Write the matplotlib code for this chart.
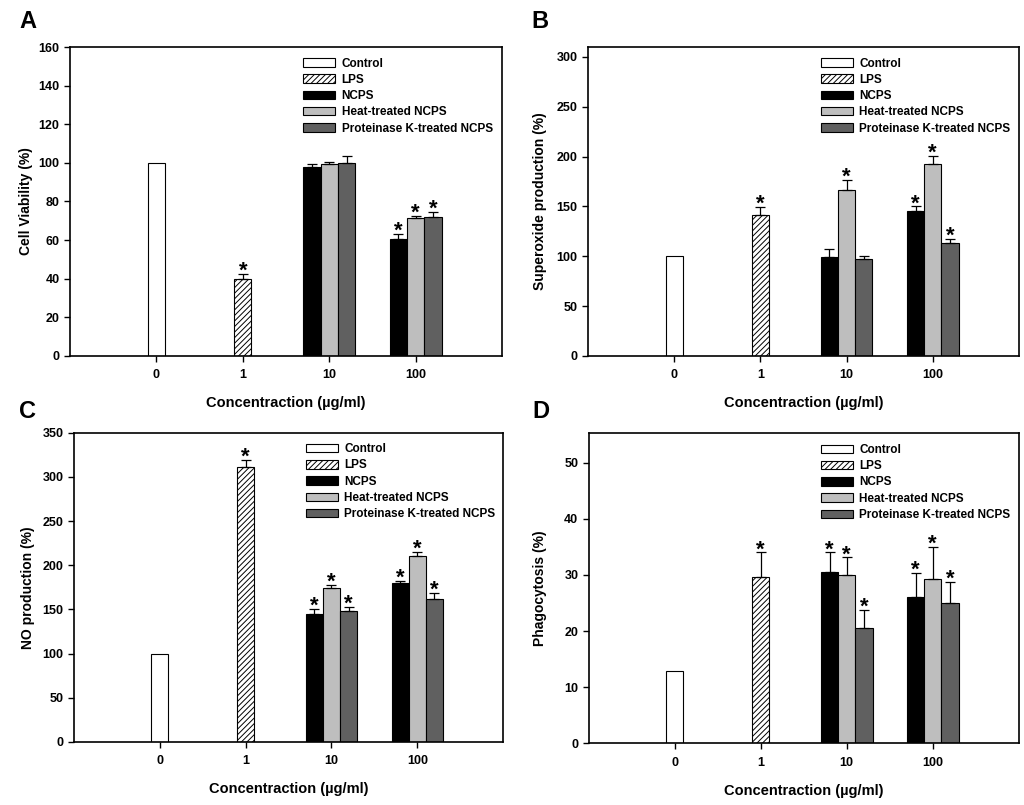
import matplotlib
matplotlib.use('Agg')
import matplotlib.pyplot as plt
import numpy as np

plt.rcParams['font.family'] = ['Liberation Sans', 'DejaVu Sans']
plt.rcParams['font.weight'] = 'bold'
plt.rcParams['hatch.linewidth'] = 0.7

# ---------------- data ----------------
conc_labels = ['0', '1', '10', '100']
series_names = ['Control', 'LPS', 'NCPS', 'Heat-treated NCPS', 'Proteinase K-treated NCPS']

# Panel A: Cell viability (%)
a_control = 100.0
a_lps = 39.7
a_lps_err = 2.8
a_ncps = [98.1, 60.8]
a_ncps_err = [1.4, 2.4]
a_heat = [99.5, 71.3]
a_heat_err = [0.8, 1.2]
a_pk = [100.0, 72.0]
a_pk_err = [3.4, 2.4]
a_lps_star = True
a_ncps_star = [False, True]
a_heat_star = [False, True]
a_pk_star = [False, True]

# Panel B: Superoxide production (%)
b_control = 100.0
b_lps = 141.3
b_lps_err = 8.4
b_ncps = [98.9, 145.3]
b_ncps_err = [8.3, 4.7]
b_heat = [166.7, 192.8]
b_heat_err = [10.3, 8.0]
b_pk = [97.2, 113.3]
b_pk_err = [3.4, 3.7]
b_lps_star = True
b_ncps_star = [False, True]
b_heat_star = [True, True]
b_pk_star = [False, True]

# Panel C: NO production (%)
c_control = 100.0
c_lps = 311.6
c_lps_err = 7.4
c_ncps = [145.2, 179.6]
c_ncps_err = [5.3, 3.0]
c_heat = [174.3, 210.0]
c_heat_err = [3.7, 4.6]
c_pk = [148.6, 161.4]
c_pk_err = [4.4, 7.6]
c_lps_star = True
c_ncps_star = [True, True]
c_heat_star = [True, True]
c_pk_star = [True, True]

# Panel D: Phagocytosis (%)
d_control = 12.9
d_lps = 29.7
d_lps_err = 4.3
d_ncps = [30.6, 26.0]
d_ncps_err = [3.4, 4.3]
d_heat = [29.9, 29.3]
d_heat_err = [3.2, 5.6]
d_pk = [20.6, 25.0]
d_pk_err = [3.2, 3.8]
d_lps_star = True
d_ncps_star = [True, True]
d_heat_star = [True, True]
d_pk_star = [True, True]

panels = [
    dict(letter='A', ylabel='Cell Viability (%)', ylim=(0, 160), yticks=np.arange(0, 161, 20),
         control=a_control, lps=a_lps, lps_err=a_lps_err, lps_star=a_lps_star,
         groups=[(a_ncps, a_ncps_err, a_ncps_star), (a_heat, a_heat_err, a_heat_star), (a_pk, a_pk_err, a_pk_star)],
         pos=[0.0684, 0.5578, 0.4219, 0.3838], letter_xy=(28, 22), ylabel_x=26),
    dict(letter='B', ylabel='Superoxide production (%)', ylim=(0, 310), yticks=np.arange(0, 301, 50),
         control=b_control, lps=b_lps, lps_err=b_lps_err, lps_star=b_lps_star,
         groups=[(b_ncps, b_ncps_err, b_ncps_star), (b_heat, b_heat_err, b_heat_star), (b_pk, b_pk_err, b_pk_star)],
         pos=[0.5742, 0.5578, 0.4209, 0.3838], letter_xy=(540, 22), ylabel_x=540),
    dict(letter='C', ylabel='NO production (%)', ylim=(0, 350), yticks=np.arange(0, 351, 50),
         control=c_control, lps=c_lps, lps_err=c_lps_err, lps_star=c_lps_star,
         groups=[(c_ncps, c_ncps_err, c_ncps_star), (c_heat, c_heat_err, c_heat_star), (c_pk, c_pk_err, c_pk_star)],
         pos=[0.0723, 0.0783, 0.4190, 0.3842], letter_xy=(28, 411), ylabel_x=28),
    dict(letter='D', ylabel='Phagocytosis (%)', ylim=(0, 55.2), yticks=np.arange(0, 51, 10),
         control=d_control, lps=d_lps, lps_err=d_lps_err, lps_star=d_lps_star,
         groups=[(d_ncps, d_ncps_err, d_ncps_star), (d_heat, d_heat_err, d_heat_star), (d_pk, d_pk_err, d_pk_star)],
         pos=[0.5749, 0.0766, 0.4200, 0.3850], letter_xy=(541, 411), ylabel_x=540),
]

group_colors = ['#000000', '#BEBEBE', '#606060']
bar_w = 0.2
err_kw = dict(capsize=3.5, elinewidth=0.9, capthick=0.9, ecolor='black')

W, H = 1024, 805
fig = plt.figure(figsize=(W / 100, H / 100), dpi=100)


def star(ax, x, y):
    ax.annotate('*', xy=(x, y), xytext=(0, -2.0), textcoords='offset points',
                ha='center', va='baseline', fontsize=16, fontweight='bold')


for p in panels:
    ax = fig.add_axes(p['pos'])
    handles = []
    h = ax.bar(0, p['control'], bar_w, color='white', edgecolor='black', linewidth=0.8)
    handles.append(h)
    h = ax.bar(1, p['lps'], bar_w, color='white', edgecolor='black', linewidth=0.8, hatch='//////',
               yerr=[[0], [p['lps_err']]], error_kw=err_kw)
    handles.append(h)
    if p['lps_star']:
        star(ax, 1, p['lps'] + p['lps_err'])
    for i, (vals, errs, stars) in enumerate(p['groups']):
        xs = np.array([2, 3]) + (i - 1) * bar_w
        h = ax.bar(xs, vals, bar_w, color=group_colors[i], edgecolor='black', linewidth=0.8,
                   yerr=[[0, 0], errs], error_kw=err_kw)
        handles.append(h)
        for x, v, e, s in zip(xs, vals, errs, stars):
            if s:
                star(ax, x, v + e)

    ax.set_xlim(-1, 4)
    ax.set_ylim(*p['ylim'])
    ax.set_yticks(p['yticks'])
    ax.set_xticks([0, 1, 2, 3])
    ax.set_xticklabels(conc_labels)
    ax.tick_params(direction='out', length=4, width=1, labelsize=9, pad=3.5)
    ax.tick_params(axis='x', pad=5.5)
    for sp in ax.spines.values():
        sp.set_linewidth(1.2)
    for lab in ax.get_xticklabels() + ax.get_yticklabels():
        lab.set_fontweight('bold')
    ax.set_ylabel(p['ylabel'], fontsize=10, fontweight='bold')
    x0, y0, w, hgt = p['pos']
    ax.yaxis.set_label_coords((p['ylabel_x'] / W - x0) / w, 0.5)
    ax.yaxis.label.set_va('center')
    ax.set_xlabel('Concentraction (\u00b5g/ml)', fontsize=10.5, fontweight='bold', labelpad=11)

    leg = ax.legend(handles, series_names, loc='upper left', bbox_to_anchor=(0.54, 0.966),
                    frameon=False, fontsize=8.5, handlelength=2.7, handleheight=0.75,
                    handletextpad=0.55, labelspacing=0.36, borderpad=0, borderaxespad=0)
    for t in leg.get_texts():
        t.set_fontweight('bold')

    lx, ly = p['letter_xy']
    fig.text(lx / W, 1 - ly / H, p['letter'], fontsize=17, fontweight='bold',
             ha='center', va='center')

fig.savefig('out.png', dpi=100)
